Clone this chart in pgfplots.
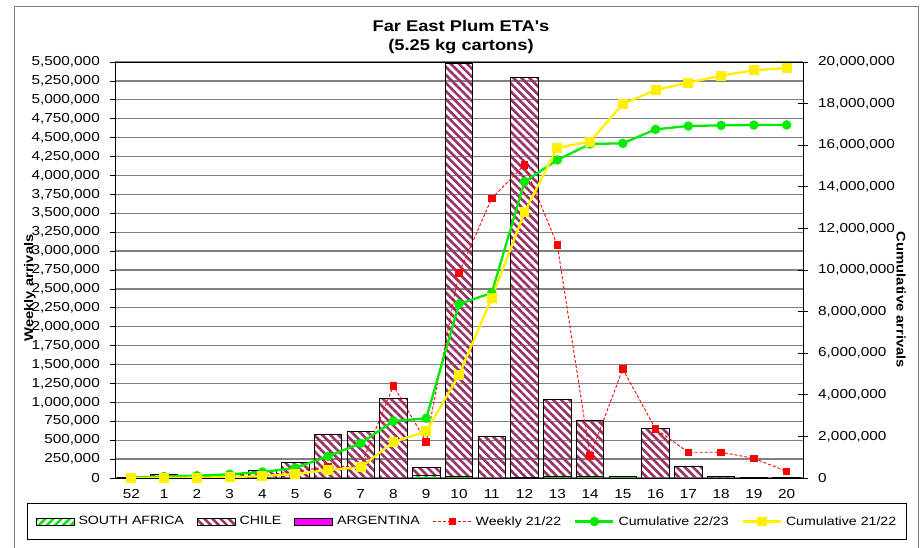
\documentclass[border=0pt]{standalone}
\usepackage{pgfplots}
\usepackage{pgfplotstable}
\pgfplotsset{compat=1.18}
\usepackage{fontspec}
\setmainfont{Liberation Sans}[FakeStretch=1.18,Ligatures=TeXOff]
\usetikzlibrary{patterns.meta}
\definecolor{chileC}{RGB}{153,51,102}
\definecolor{saC}{RGB}{0,225,0}
\definecolor{argC}{RGB}{255,0,255}
\definecolor{redC}{RGB}{255,0,0}
\definecolor{grnC}{RGB}{0,235,0}
\definecolor{ylwC}{RGB}{255,240,0}
\definecolor{gridC}{RGB}{128,128,128}

\pgfplotstableread{
x  sa     chile   arg  weekly   cumA      cumB
0  0      10000   0    0        20000     0
1  0      50000   0    0        70000     10000
2  0      15000   0    5000     110000    20000
3  0      45000   0    15000    178000    40000
4  0      97000   0    30000    290000    96000
5  0      207000  0    90000    480000    190000
6  0      573000  0    145000   1043000   385000
7  0      612000  0    159000   1668000   514000
8  0      1054000 0    1220000  2740000   1731000
9  30000  111000  0    476000   2870000   2245000
10 15000  5465000 0    2710000  8365000   4952000
11 0      546000  0    3698000  8894000   8654000
12 10000  5290000 0    4138000  14246000  12774000
13 20000  1020000 0    3080000  15288000  15881000
14 20000  747000  0    291000   16058000  16170000
15 20000  5000    0    1441000  16090000  17981000
16 0      657000  0    648000   16763000  18654000
17 0      159000  0    340000   16923000  19006000
18 0      17000   0    340000   16955000  19343000
19 0      5000    0    260000   16970000  19600000
20 0      2000    0    88000    16975000  19711000
}\datatable

\pgfplotsset{
  base/.style={width=688bp,height=416bp,scale only axis,
    at={(115bp,70bp)},anchor=south west,
    xmin=-0.5,xmax=20.5,
    tick label style={font=\fontsize{13bp}{15bp}\selectfont},
    scaled y ticks=false,
    yticklabel style={/pgf/number format/fixed,/pgf/number format/precision=0,
      /pgf/number format/1000 sep={,},/pgf/number format/assume math mode=true},
  },
  barleg/.style={legend image code/.code={\draw[##1] (0bp,-3.5bp) rectangle (38bp,3.5bp);}},
  lineleg/.style={legend image code/.code={\draw[##1,mark repeat=2,mark phase=2] plot coordinates {(0bp,0bp) (19bp,0bp) (38bp,0bp)};}},
  weekstyle/.style={color=redC,dash pattern=on 3bp off 2bp,line width=0.9bp,mark=square*,mark size=3.3bp,mark options={solid,fill=redC}},
  cumAstyle/.style={color=grnC,line width=2.3bp,mark=*,mark size=3.5bp,mark options={solid,fill=grnC}},
  cumBstyle/.style={color=ylwC,line width=2.3bp,mark=square*,mark size=3.8bp,mark options={solid,fill=ylwC}},
  sastyle/.style={draw=black,line width=0.8bp,pattern={Lines[angle=45,distance=5.7bp,line width=2.4bp]},pattern color=saC},
  chilestyle/.style={draw=black,line width=0.8bp,pattern={Lines[angle=-45,distance=5.7bp,line width=2.6bp]},pattern color=chileC},
  argstyle/.style={draw=black,line width=0.8bp,fill=argC},
}

\begin{document}
\begin{tikzpicture}
\useasboundingbox (0,0) rectangle (922bp,548bp);
\draw[gridC,line width=1bp] (14bp,0bp) -- (14bp,541bp) -- (918bp,541bp) -- (918bp,0bp);

% bars
\begin{axis}[base,
  ymin=0,ymax=5500000,
  ytick={0,250000,500000,750000,1000000,1250000,1500000,1750000,2000000,2250000,2500000,2750000,3000000,3250000,3500000,3750000,4000000,4250000,4500000,4750000,5000000,5250000,5500000},
  ymajorgrids, major grid style={gridC,line width=1.2bp},
  axis line style={black,line width=1bp},
  ytick pos=left, tick align=outside, major tick length=5bp,
  ytick style={black,line width=0.8bp},
  xtick={0,...,20},
  xticklabels={52,1,2,3,4,5,6,7,8,9,10,11,12,13,14,15,16,17,18,19,20},
  xtick style={draw=none},
  xticklabel style={anchor=north,inner sep=0pt,yshift=-6bp},
  yticklabel style={anchor=east,inner sep=0pt,xshift=-10bp},
  ybar stacked, bar width=27.5bp,
]
\addplot[sastyle] table[x=x,y=sa]{\datatable};
\addplot[chilestyle] table[x=x,y=chile]{\datatable};
\addplot[argstyle] table[x=x,y=arg]{\datatable};
\end{axis}

% weekly line
\begin{axis}[base,hide axis,ymin=0,ymax=5500000]
\addplot[weekstyle] table[x=x,y=weekly]{\datatable};
\end{axis}

% cumulative
\begin{axis}[base,
  ymin=0,ymax=20000000,
  ytick={0,2000000,4000000,6000000,8000000,10000000,12000000,14000000,16000000,18000000,20000000},
  axis x line=none, axis y line*=right,
  axis line style={black,line width=1bp},
  tick align=center, major tick length=10bp,
  ytick style={black,line width=0.8bp},
  yticklabel style={anchor=west,inner sep=0pt,xshift=10bp},
  legend columns=6,
  legend style={at={(axis description cs:0.5116,-0.1046)},anchor=center,
    draw=black,line width=0.8bp,font=\fontsize{12bp}{14bp}\selectfont,
    inner xsep=8bp,inner ysep=11bp,
    /tikz/every odd column/.append style={column sep=2bp},
    /tikz/every even column/.append style={column sep=11bp}},
  legend cell align=left,
]
\addlegendimage{sastyle,barleg}
\addlegendentry{SOUTH AFRICA}
\addlegendimage{chilestyle,barleg}
\addlegendentry{CHILE}
\addlegendimage{argstyle,barleg}
\addlegendentry{ARGENTINA}
\addlegendimage{weekstyle,lineleg}
\addlegendentry{Weekly 21/22}
\addplot[cumAstyle,lineleg] table[x=x,y=cumA]{\datatable};
\addlegendentry{Cumulative 22/23}
\addplot[cumBstyle,lineleg] table[x=x,y=cumB]{\datatable};
\addlegendentry{Cumulative 21/22}
\end{axis}

\node[font=\fontsize{15.5bp}{19.5bp}\selectfont\bfseries,align=center] at (461bp,511bp) {Far East Plum ETA's\\(5.25 kg cartons)};
\node[font=\fontsize{12.5bp}{15bp}\selectfont\bfseries,rotate=90] at (30bp,260bp) {Weekly arrivals};
\node[font=\fontsize{12.5bp}{15bp}\selectfont\bfseries,rotate=-90] at (901bp,248bp) {Cumulative arrivals};
\end{tikzpicture}
\end{document}
